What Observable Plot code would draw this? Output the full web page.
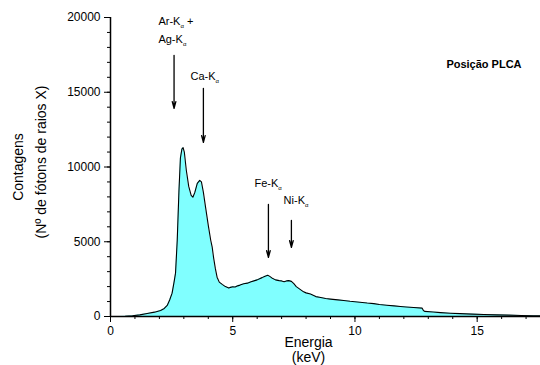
<!DOCTYPE html>
<html><head><meta charset="utf-8">
<script src="https://cdn.jsdelivr.net/npm/d3@7"></script>
<script src="https://cdn.jsdelivr.net/npm/@observablehq/plot@0.6"></script>
<style>body{margin:0;background:#fff} svg{display:block}</style>
</head><body><div id="chart"></div>
<script>
const energy = [0,0.3,0.6,0.9,1.2,1.5,1.8,2.05,2.2,2.32,2.42,2.52,2.6,2.66,2.73,2.8,2.86,2.92,2.97,3.02,3.1,3.2,3.3,3.37,3.45,3.55,3.65,3.72,3.8,3.89,4.0,4.1,4.16,4.22,4.29,4.36,4.45,4.57,4.7,4.84,4.91,5.0,5.1,5.2,5.3,5.45,5.6,5.75,5.9,6.0,6.1,6.2,6.3,6.43,6.5,6.6,6.75,6.9,7.0,7.1,7.2,7.29,7.4,7.5,7.6,7.77,7.9,8.0,8.18,8.4,8.6,8.8,9.0,9.3,9.54,9.8,10.0,10.3,10.5,10.77,11.0,11.3,11.6,11.86,12.1,12.4,12.75,12.8,12.85,13.2,13.5,13.9,14.3,14.8,15.27,15.8,16.3,16.8,17.3,17.59];
const counts = [0,5,20,50,110,200,290,400,540,740,1100,1560,2300,2900,5100,8400,10600,11200,11300,11000,9800,8700,8100,7980,8300,8900,9100,9000,8300,7300,6100,5100,4640,3900,3200,2630,2300,2150,2000,1900,1950,1990,1970,2050,2100,2190,2230,2320,2400,2450,2530,2600,2680,2760,2700,2580,2450,2400,2380,2330,2380,2400,2350,2200,2000,1800,1650,1580,1500,1330,1270,1200,1160,1110,1070,1020,990,940,900,860,800,750,710,670,640,600,560,400,340,300,260,220,190,160,134,110,90,70,50,40];

const yTicks = [0, 5000, 10000, 15000, 20000];
const yMinor = d3.range(0, 20001, 1000);
const xTicks = [0, 5, 10, 15];
const xMinor = d3.range(0, 18, 1);

const labelText = ["Ar-K_α +", "Ag-K_α", "Ca-K_α", "Fe-K_α", "Ni-K_α"];
const labelX = [1.96, 1.96, 3.27, 5.89, 7.08];
const labelY = [19476, 18272, 15795, 8634, 7496];

const arrowX = [2.6, 3.8, 6.46, 7.4];
const arrowTop = [17470, 15260, 7496, 6425];
const arrowTip = [13920, 11646, 3950, 4620];

const title = "Posição PLCA";

const spectrum = energy.map((e, i) => ({e, c: counts[i]}));
const labels = labelText.map((t, i) => ({t, x: labelX[i], y: labelY[i]}));
const arrows = arrowX.map((x, i) => ({x, y1: arrowTop[i], y2: arrowTip[i]}));

const font = "Liberation Sans, Arial, sans-serif";

const plot = Plot.plot({
  width: 540, height: 365,
  marginLeft: 110, marginRight: 0, marginTop: 17, marginBottom: 49,
  style: {fontFamily: font, fontSize: "12px", background: "#fff", color: "#000"},
  x: {domain: [0, 17.59]},
  y: {domain: [0, 20000]},
  marks: [
    Plot.areaY(spectrum, {x: "e", y: "c", fill: "#80ffff"}),
    Plot.lineY(spectrum, {x: "e", y: "c", stroke: "#000", strokeWidth: 1.1}),
    Plot.axisY({ticks: yTicks, tickSize: 6, tickPadding: 4, tickFormat: d => String(d), label: null, fontSize: 12}),
    Plot.axisY({ticks: yMinor, tickSize: 3, tickFormat: () => "", label: null}),
    Plot.axisX({ticks: xTicks, tickSize: 6, tickPadding: 4, tickFormat: d => String(d), label: null, fontSize: 12}),
    Plot.axisX({ticks: xMinor, tickSize: 3, tickFormat: () => "", label: null}),
    Plot.ruleX([0], {stroke: "#000", strokeWidth: 1.5}),
    Plot.ruleY([0], {stroke: "#000", strokeWidth: 1.5}),
    Plot.arrow(arrows, {x1: "x", x2: "x", y1: "y1", y2: "y2", stroke: "#000", strokeWidth: 1.3, headLength: 8, headAngle: 30}),
    Plot.text(labels, {x: "x", y: "y", text: "t", textAnchor: "start", lineAnchor: "bottom", fontSize: 11}),
    Plot.text([title], {x: 13.74, y: 16600, text: d => d, textAnchor: "start", lineAnchor: "bottom", fontSize: 11, fontWeight: "bold"}),
    Plot.text(["Energia"], {frameAnchor: "bottom", dx: -17, dy: 30, fontSize: 14, lineAnchor: "bottom"}),
    Plot.text(["(keV)"], {frameAnchor: "bottom", dx: -17, dy: 45, fontSize: 14, lineAnchor: "bottom"}),
    Plot.text(["Contagens"], {frameAnchor: "left", textAnchor: "middle", dx: -92, dy: 0, rotate: -90, fontSize: 14}),
    Plot.text(["(Nº de fótons de raios X)"], {frameAnchor: "left", textAnchor: "middle", dx: -69, dy: -5, rotate: -90, fontSize: 14})
  ]
});

// subscript rendering for labels like "Ar-K_α +"
d3.select(plot).selectAll("text").each(function() {
  const t = this.textContent;
  if (!t.includes("_")) return;
  const [pre, rest] = t.split("_");
  const sub = rest[0];
  const post = rest.slice(1);
  const sel = d3.select(this);
  sel.text(null);
  sel.append("tspan").text(pre);
  sel.append("tspan").attr("font-size", 6).attr("dy", 3).text(sub);
  if (post) sel.append("tspan").attr("dy", -3).text(post);
});

document.getElementById("chart").append(plot);
</script>
</body></html>
